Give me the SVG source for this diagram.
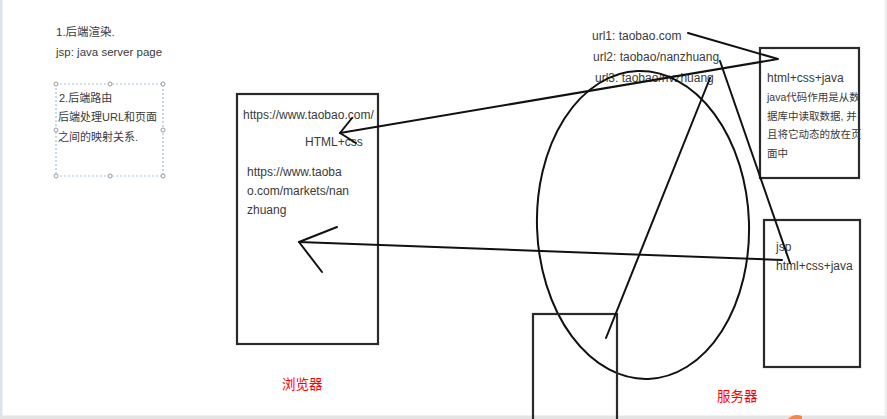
<svg xmlns="http://www.w3.org/2000/svg" width="887" height="419" viewBox="0 0 887 419">
<defs>
<style>
.t{font-family:"Liberation Sans","Noto Sans CJK SC",sans-serif;font-size:12px;fill:#3a3a3a}
.c{font-family:"Liberation Sans","Noto Sans CJK SC",sans-serif;font-size:10.5px;fill:#3a3a3a}
.red{font-family:"Noto Sans CJK SC",sans-serif;font-size:13.5px;fill:#ff0000}
.box{fill:none;stroke:#2a2a2a;stroke-width:2.2}
.ln{fill:none;stroke:#111;stroke-width:2;stroke-linecap:round;stroke-linejoin:round}
.sel{fill:none;stroke:#9cc3e6;stroke-width:1.2;stroke-dasharray:2 2}
.h{fill:#fff;stroke:#9a9a9a;stroke-width:1}
</style>
</defs>
<rect x="0" y="0" width="887" height="419" fill="#ffffff"/>
<rect x="0" y="0" width="2.5" height="419" fill="#dbe4ee"/>
<rect x="0" y="415.5" width="887" height="3.5" fill="#e4e4e4"/>
<rect x="884.5" y="0" width="2.5" height="416" fill="#eeeeee"/>
<path d="M788 419 Q794 413 802 416 L802 419 Z" fill="#f08a4b"/>

<g id="notes">
<text class="t" x="56" y="36" style="font-size:11.5px">1.后端渲染.</text>
<text class="t" x="56" y="56" style="font-size:11.5px">jsp: java server page</text>
</g>

<g id="routing-note">
<rect class="sel" x="56" y="84" width="107" height="92"/>
<circle class="h" cx="56" cy="84" r="2"/><circle class="h" cx="110" cy="84" r="2"/><circle class="h" cx="163" cy="84" r="2"/>
<circle class="h" cx="56" cy="130" r="2"/><circle class="h" cx="163" cy="130" r="2"/>
<circle class="h" cx="56" cy="176" r="2"/><circle class="h" cx="110" cy="176" r="2"/><circle class="h" cx="163" cy="176" r="2"/>
<text class="t" x="59" y="102" style="font-size:11px">2.后端路由</text>
<text class="t" x="58" y="121" style="font-size:11px">后端处理URL和页面</text>
<text class="t" x="58" y="141" style="font-size:11px">之间的映射关系.</text>
</g>

<g id="browser">
<rect class="box" x="237" y="94" width="141" height="250"/>
<text class="t" x="243" y="119">https://www.taobao.com/</text>
<text class="t" x="305" y="146">HTML+css</text>
<text class="t" x="247" y="176">https://www.taoba</text>
<text class="t" x="247" y="195">o.com/markets/nan</text>
<text class="t" x="247" y="214">zhuang</text>
<text class="red" x="282" y="389">浏览器</text>
</g>

<g id="urls">
<text class="t" x="592" y="40">url1: taobao.com</text>
<text class="t" x="593" y="61">url2: taobao/nanzhuang</text>
<text class="t" x="595" y="82">url3: taobao/nvzhuang</text>
</g>

<g id="server-ellipse">
<ellipse class="ln" cx="643" cy="225" rx="106" ry="154" transform="rotate(-2 643 225)"/>
</g>

<g id="small-box">
<rect class="box" x="533" y="314" width="84" height="110"/>
</g>

<g id="java-box">
<rect class="box" x="760" y="48" width="99" height="130"/>
<text class="t" x="767" y="82">html+css+java</text>
<text class="c" x="767" y="101">java代码作用是从数</text>
<text class="c" x="767" y="120">据库中读取数据, 并</text>
<text class="c" x="767" y="138">且将它动态的放在页</text>
<text class="c" x="767" y="157">面中</text>
</g>

<g id="jsp-box">
<rect class="box" x="764" y="220" width="96" height="147"/>
<text class="t" x="776" y="251">jsp</text>
<text class="t" x="776" y="270">html+css+java</text>
<text class="red" x="717" y="401">服务器</text>
</g>

<g id="connectors">
<polyline class="ln" points="688,33 778,59 340,133"/>
<polyline class="ln" points="352,118 340,133 356,143"/>
<line class="ln" x1="299" y1="242" x2="782" y2="260"/>
<polyline class="ln" points="337,227 299,242 322,272"/>
<line class="ln" x1="720" y1="61" x2="790" y2="263"/>
<line class="ln" x1="710" y1="78" x2="606" y2="338"/>
</g>
</svg>
